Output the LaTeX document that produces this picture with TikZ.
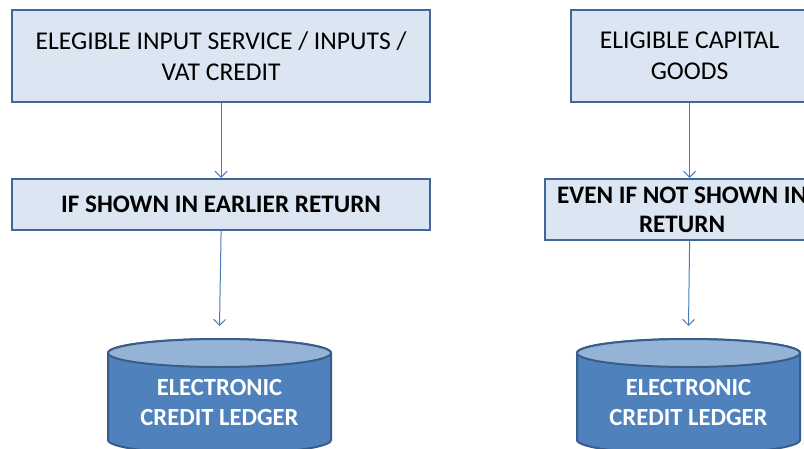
\documentclass[tikz,border=0pt]{standalone}
\usepackage{fontspec}
\setmainfont{Carlito}
\usetikzlibrary{arrows.meta}
\definecolor{boxfill}{HTML}{DCE6F2}
\definecolor{boxline}{HTML}{41679A}
\definecolor{arr}{HTML}{4A7EBB}
\definecolor{cylbody}{HTML}{4F81BD}
\definecolor{cyltop}{HTML}{95B3D7}
\definecolor{cylline}{HTML}{385D8A}
\tikzset{
  box/.style={draw=boxline, line width=2.2pt, fill=boxfill, inner sep=0pt, anchor=north west, align=center},
  plain/.style={font=\fontsize{25.6}{31}\selectfont},
  strong/.style={font=\bfseries\fontsize{25.2}{29}\selectfont},
  conn/.style={draw=arr, line width=1pt, -{Straight Barb[length=6pt,width=12pt]}},
  cylbox/.style={draw=cylline, line width=2pt, fill=cylbody},
  cyltopf/.style={draw=cylline, line width=2pt, fill=cyltop},
  cyltext/.style={text=white, align=center, font=\bfseries\fontsize{24.6}{30}\selectfont, inner sep=0pt}
}
\begin{document}
\begin{tikzpicture}[x=1pt,y=-1pt]
\useasboundingbox (0,0) rectangle (804,448);
\clip (0,0) rectangle (804,448);
\fill[white] (0,0) rectangle (804,448);
% left column
\node[box, plain, minimum width=418pt, minimum height=92pt] (b1) at (11,9) {ELEGIBLE INPUT SERVICE / INPUTS /\\VAT CREDIT};
\node[box, strong, minimum width=418pt, minimum height=51pt] (b2) at (11,178) {IF SHOWN IN EARLIER RETURN};
% right column
\node[box, plain, minimum width=237pt, minimum height=92pt] (b3) at (570,9) {ELIGIBLE CAPITAL\\GOODS};
\node[box, strong, minimum width=274pt, minimum height=61pt] (b4) at (544,178) {EVEN IF NOT SHOWN IN\\RETURN};
% cylinders
\path[cylbox] (108,353) -- (108,440) arc[start angle=180, end angle=360, x radius=111.5pt, y radius=14pt] -- (331,353) arc[start angle=0, end angle=180, x radius=111.5pt, y radius=14pt] -- cycle;
\path[cyltopf] (219.5,353) ellipse[x radius=111.5pt, y radius=14pt];
\node[cyltext] (c1) at (219.5,403) {ELECTRONIC\\CREDIT LEDGER};
\coordinate (c1top) at (219.5,326);
\path[cylbox] (577,353) -- (577,440) arc[start angle=180, end angle=360, x radius=111.5pt, y radius=14pt] -- (800,353) arc[start angle=0, end angle=180, x radius=111.5pt, y radius=14pt] -- cycle;
\path[cyltopf] (688.5,353) ellipse[x radius=111.5pt, y radius=14pt];
\node[cyltext] (c2) at (688.5,403) {ELECTRONIC\\CREDIT LEDGER};
\coordinate (c2top) at (688.5,326);
% connectors
\draw[conn] (b1.south) -- (b2.north);
\draw[conn] (b2.south) -- (c1top);
\draw[conn] (b3.south) -- (b3.south |- b4.north);
\draw[conn] (b4.south -| b3.south) -- (c2top);
\end{tikzpicture}
\end{document}
